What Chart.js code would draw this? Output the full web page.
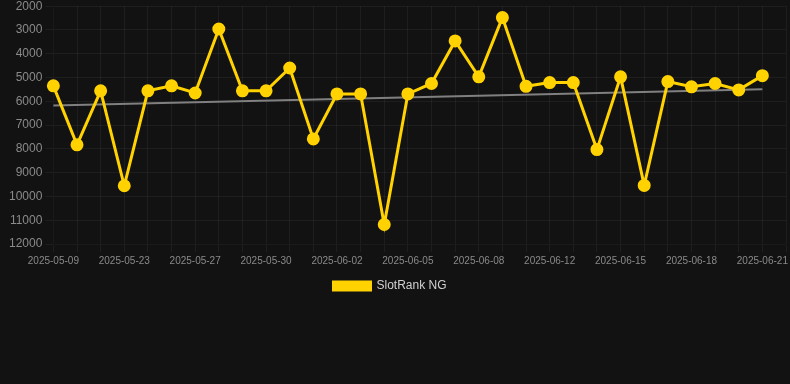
<!DOCTYPE html>
<html>
<head>
<meta charset="utf-8">
<script src="https://cdn.jsdelivr.net/npm/chart.js@4.4.1/dist/chart.umd.min.js"></script>
<style>
    html, body { margin: 0; padding: 0; background: #121212; overflow: hidden; }
    #wrap { position: absolute; left: -4px; top: -4px; width: 798px; height: 306px; }
</style>
</head>
<body>
<div id="wrap"><canvas id="chart"></canvas></div>
<script>
const labels = [
    '2025-05-09', '2025-05-10', '2025-05-22', '2025-05-23', '2025-05-24', '2025-05-26',
    '2025-05-27', '2025-05-28', '2025-05-29', '2025-05-30', '2025-05-31', '2025-06-01',
    '2025-06-02', '2025-06-03', '2025-06-04', '2025-06-05', '2025-06-06', '2025-06-07',
    '2025-06-08', '2025-06-09', '2025-06-10', '2025-06-12', '2025-06-13', '2025-06-14',
    '2025-06-15', '2025-06-16', '2025-06-17', '2025-06-18', '2025-06-19', '2025-06-20',
    '2025-06-21', '2025-06-22'
];

const rank = [
    5350, 7830, 5560, 9550, 5560, 5350, 5650, 2960, 5560, 5560, 4600,
    7580, 5690, 5690, 11180, 5690, 5250, 3460, 4970, 2480, 5370, 5210,
    5210, 8030, 4970, 9535, 5170, 5390, 5250, 5520, 4920, null
];

// trend line only known at its two ends
const trendStart = { x: '2025-05-09', y: 6180 };
const trendEnd = { x: '2025-06-21', y: 5490 };

const yellow = '#ffd200';
const font = 'Arial, "Liberation Sans", sans-serif';

// legend sits a bit left of centre in the original
const legendShift = {
    id: 'legendShift',
    afterLayout: function(chart) {
        chart.legend.left -= 10;
        chart.legend.right -= 10;
    }
};

var ctx = document.getElementById('chart').getContext('2d');
var chart = new Chart(ctx, {
    type: 'line',
    data: {
        labels: labels,
        datasets: [
            {
                label: 'SlotRank NG',
                data: rank,
                borderColor: yellow,
                backgroundColor: yellow,
                borderWidth: 3,
                pointRadius: 5,
                pointHoverRadius: 5,
                fill: false,
                tension: 0
            },
            {
                label: 'trend',
                data: [trendStart, trendEnd],
                borderColor: '#808080',
                borderWidth: 2,
                pointRadius: 0,
                fill: false
            }
        ]
    },
    options: {
        responsive: true,
        maintainAspectRatio: false,
        animation: false,
        layout: {
            padding: { left: 10 }
        },
        plugins: {
            legend: {
                position: 'bottom',
                labels: {
                    color: '#d0d0d0',
                    boxWidth: 37,
                    boxHeight: 8,
                    font: { family: font, size: 12 },
                    filter: item => item.text !== 'trend'
                }
            },
            tooltip: { enabled: false }
        },
        scales: {
            x: {
                grid: { color: 'rgba(255,255,255,0.05)' },
                ticks: {
                    color: '#8a8a8a',
                    font: { family: font, size: 10 },
                    autoSkip: false,
                    maxRotation: 0,
                    callback: function(value, index) {
                        return index % 3 === 0 ? labels[index] : '';
                    }
                }
            },
            y: {
                reverse: true,
                min: 2000,
                max: 12000,
                grid: { color: 'rgba(255,255,255,0.05)' },
                ticks: {
                    color: '#8a8a8a',
                    stepSize: 1000,
                    font: { family: font, size: 12 },
                    callback: value => String(value)
                }
            }
        }
    },
    plugins: [legendShift]
});
</script>
</body>
</html>
